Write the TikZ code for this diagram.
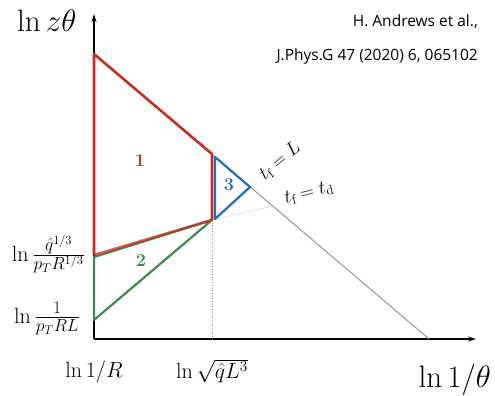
\RequirePackage{fix-cm}
\documentclass[tikz,border=0pt]{standalone}
\usepackage{fontspec}
\newfontfamily\refsans{Open Sans}
\usetikzlibrary{arrows.meta}
\definecolor{rred}{RGB}{200,45,30}
\definecolor{rgreen}{RGB}{60,140,75}
\definecolor{rblue}{RGB}{30,110,200}
\definecolor{rgray}{RGB}{150,150,150}
\begin{document}
\begin{tikzpicture}[x=1pt,y=-1pt,
  axis/.style={line width=1.4pt,-{Stealth[length=8pt,width=5pt]}},
  redline/.style={rred,line width=2.6pt,line join=round},
  greenline/.style={rgreen,line width=2.2pt,line join=round},
  blueline/.style={rblue,line width=2.2pt,line join=round},
  grayline/.style={rgray,line width=1pt},
  dotline/.style={rgray,line width=0.7pt,dotted},
  biglab/.style={font=\fontsize{31}{36}\selectfont,inner sep=0pt},
  ticklab/.style={font=\fontsize{22}{26}\selectfont,inner sep=0pt},
  fraclab/.style={font=\fontsize{25}{30}\selectfont,inner sep=0pt},
  numlab/.style={font=\fontsize{18}{22}\selectfont\bfseries,inner sep=0pt},
  tflab/.style={font=\fontsize{19}{23}\selectfont,inner sep=0pt},
  reflab/.style={font=\refsans\fontsize{15.5}{19}\selectfont,inner sep=0pt}]
\useasboundingbox (0,0) rectangle (495,396);
\fill[white] (0,0) rectangle (495,396);
% coordinates
\coordinate (O) at (94,339);
\coordinate (Ytop) at (94,14);
\coordinate (Xend) at (476,339);
\coordinate (A) at (94,54);
\coordinate (B) at (212,154);
\coordinate (C) at (212,220);
\coordinate (D) at (94,255);
\coordinate (E) at (94,257);
\coordinate (F) at (94,320);
\coordinate (G) at (429,339);
\coordinate (Bt) at (215,157);
\coordinate (Bb) at (215,219);
\coordinate (H) at (250,187);
\coordinate (T) at (273,206);
\coordinate (Cx) at (212,339);
% axes
\draw[axis] (O) -- (Ytop);
\draw[axis] (O) -- (Xend);
% gray and dotted lines
\draw[grayline] (A) -- (G);
\draw[dotline] (C) -- (Cx);
\draw[dotline] (C) -- (T);
% green region
\draw[greenline] (E) -- (F) -- (C) -- cycle;
% blue triangle
\draw[blueline] (Bt) -- (H) -- (Bb) -- cycle;
% red region
\draw[redline] (D) -- (A) -- (B) -- (C);
\draw[redline,opacity=0.75] (C) -- (D);
% numbers
\node[numlab,text=rred] (n1) at (140,161) {1};
\node[numlab,text=rgreen] (n2) at (141,261) {2};
\node[numlab,text=rblue] (n3) at (229,185) {3};
% tf labels
\node[tflab,rotate=40] (tfL) at (280,161) {$t_{\mathrm{f}}=L$};
\node[tflab,rotate=14] (tfd) at (309,193) {$t_{\mathrm{f}}=t_{\mathrm{d}}$};
% axis labels
\node[biglab,anchor=base west] (ylab) at (17,32) {$\ln z\theta$};
\node[biglab,anchor=base east] (xlab) at (491,387) {$\ln 1/\theta$};
\node[ticklab,anchor=base] (x1) at (94,377) {$\ln 1/R$};
\node[ticklab,anchor=base] (x2) at (212,378) {$\ln \sqrt{\hat q L^3}$};
\node[ticklab,anchor=base east] (y1) at (85,261) {$\ln$\,{\fontsize{25}{30}\selectfont$\frac{\hat q^{1/3}}{p_T R^{1/3}}$}};
\node[ticklab,anchor=base east] (y2) at (80,323) {$\ln$\,{\fontsize{25}{30}\selectfont$\frac{1}{p_T R L}$}};
% reference
\node[reflab,anchor=base east] (r1) at (478,27) {H. Andrews et al.,};
\node[reflab,anchor=base east] (r2) at (478,60) {J.Phys.G 47 (2020) 6, 065102};
\end{tikzpicture}
\end{document}
